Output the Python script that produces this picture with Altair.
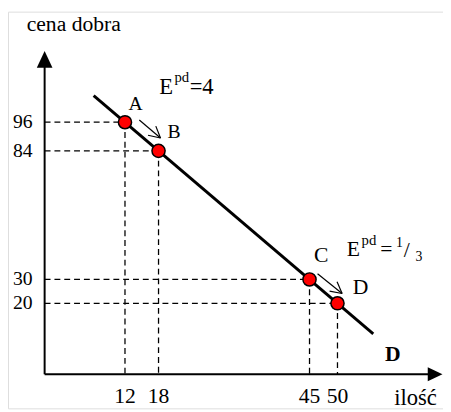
import altair as alt
import pandas as pd
import math

# ---- data -------------------------------------------------------------
names = ["A", "B", "C", "D"]
q_pts = [12, 18, 45, 50]          # ilość
p_pts = [96, 84, 30, 20]          # cena dobra
q_ticks = ["12", "18", "45", "50"]
p_ticks = ["96", "84", "30", "20"]

# demand curve end points
q_line = [6.4, 56.4]
p_line = [107.2, 7.2]

# axes (hand-drawn origin of the schematic)
Q_AXIS = -2.37
P_AXIS = -9.8
P_ARROW = 122.4
Q_ARROW = 67.46

# small movement arrows A->B and C->D
arr_q0 = [14.56, 46.44]
arr_p0 = [96.95, 32.36]
arr_q1 = [18.35, 50.83]
arr_p1 = [89.37, 24.11]

# point labels
lab_q = [13.91, 20.76, 47.09, 54.13]
lab_p = [103.67, 91.72, 40.19, 26.59]
lab_s = [20, 20, 22, 22]

# elasticity annotations (pieces: main text, superscripts, subscripts)
el_text = ["E", "pd", "=4", "E", "pd", "=", "1", "/", "3"]
el_q = [18.12, 20.84, 23.56, 51.66, 54.30, 57.63, 60.45, 61.85, 63.95]
el_p = [107.79, 112.94, 107.79, 39.78, 44.31, 39.78, 43.49, 39.36, 37.72]
el_s = [23, 15, 23, 22, 15, 22, 14, 22, 14]

FONT = "Liberation Serif, Times New Roman, serif"
W, H = 443, 404
X_DOM = [-8.92, 68.87]
Y_DOM = [-24.11, 142.42]
KX, KY = W / (X_DOM[1] - X_DOM[0]), H / (Y_DOM[1] - Y_DOM[0])

xs = alt.Scale(domain=X_DOM, nice=False, zero=False)
ys = alt.Scale(domain=Y_DOM, nice=False, zero=False)


def X(f="q"):
    return alt.X(f"{f}:Q", scale=xs, axis=None)


def Y(f="p"):
    return alt.Y(f"{f}:Q", scale=ys, axis=None)


# ---- tables -------------------------------------------------------------
pts = pd.DataFrame({"q": q_pts, "p": p_pts, "name": names,
                    "qt": q_ticks, "pt": p_ticks})
pts["qa"] = Q_AXIS
pts["pa"] = P_AXIS

line_df = pd.DataFrame({"q": q_line, "p": p_line})

axes_df = pd.DataFrame({
    "q": [Q_AXIS, Q_AXIS], "p": [P_AXIS, P_AXIS],
    "q2": [Q_AXIS, Q_ARROW], "p2": [P_ARROW, P_AXIS]})

# arrows: shafts + barbs (barbs computed in pixel space)
seg = []
for a0, b0, a1, b1 in zip(arr_q0, arr_p0, arr_q1, arr_p1):
    seg.append((a0, b0, a1, b1))
    dx, dy = (a0 - a1) * KX, (b0 - b1) * KY
    L = math.hypot(dx, dy)
    ux, uy = dx / L, dy / L
    for ang in (28, -28):
        r = math.radians(ang)
        vx = ux * math.cos(r) - uy * math.sin(r)
        vy = ux * math.sin(r) + uy * math.cos(r)
        seg.append((a1, b1, a1 + 13 * vx / KX, b1 + 13 * vy / KY))
arr_df = pd.DataFrame(seg, columns=["q", "p", "q2", "p2"])

lab_df = pd.DataFrame({"q": lab_q, "p": lab_p, "t": names, "s": lab_s})
el_df = pd.DataFrame({"q": el_q, "p": el_p, "t": el_text, "s": el_s})
misc_df = pd.DataFrame({
    "q": [2.84, 63.95], "p": [134.17, -22.88],
    "t": ["cena dobra", "ilość"], "s": [22, 23]})
dlab_df = pd.DataFrame({"q": [59.9], "p": [-4.33], "t": ["D"]})
tri_df = pd.DataFrame({"q": [Q_AXIS, Q_ARROW], "p": [P_ARROW, P_AXIS],
                       "shape": ["M0,-1L0.94,1L-0.94,1Z",
                                 "M1,0L-1,-0.95L-1,0.95Z"],
                       "size": [289, 225]})

# ---- layers -------------------------------------------------------------
axes = alt.Chart(axes_df).mark_rule(color="black", strokeWidth=2).encode(
    x=X(), y=Y(), x2="q2", y2="p2")
heads = alt.Chart(tri_df).mark_point(filled=True, color="black", opacity=1).encode(
    x=X(), y=Y(),
    shape=alt.Shape("shape:N", scale=None),
    size=alt.Size("size:Q", scale=None))

dash_h = alt.Chart(pts).mark_rule(color="black", strokeWidth=1.3,
                                  strokeDash=[6, 4]).encode(
    x=X("qa"), x2="q", y=Y())
dash_v = alt.Chart(pts).mark_rule(color="black", strokeWidth=1.3,
                                  strokeDash=[6, 4]).encode(
    x=X(), y=Y(), y2="pa")

demand = alt.Chart(line_df).mark_line(color="black", strokeWidth=3).encode(
    x=X(), y=Y())

arrows = alt.Chart(arr_df).mark_rule(color="black", strokeWidth=1.2).encode(
    x=X(), y=Y(), x2="q2", y2="p2")

points = alt.Chart(pts).mark_point(shape="circle", filled=True, fill="#ff0000",
                                   stroke="black", strokeWidth=1.5,
                                   size=180, opacity=1).encode(x=X(), y=Y())

xticks = alt.Chart(pts).mark_text(font=FONT, fontSize=22, align="center",
                                  baseline="alphabetic", color="black").encode(
    x=X(), y=alt.Y("ty:Q", scale=ys, axis=None), text="qt").transform_calculate(
    ty=str(-22.05))
yticks = alt.Chart(pts).mark_text(font=FONT, fontSize=20, align="right",
                                  baseline="middle", color="black").encode(
    x=alt.X("tx:Q", scale=xs, axis=None), y=Y(), text="pt").transform_calculate(
    tx=str(-4.53))


def text_layers(df, align, baseline):
    out = []
    for s in sorted(df["s"].unique()):
        sub = df[df["s"] == s]
        out.append(alt.Chart(sub).mark_text(
            font=FONT, fontSize=int(s), align=align, baseline=baseline,
            color="black").encode(x=X(), y=Y(), text="t"))
    return out


labels = text_layers(lab_df, "center", "middle")
elast = text_layers(el_df, "left", "alphabetic")
misc = text_layers(misc_df, "center", "alphabetic")
dlab = alt.Chart(dlab_df).mark_text(font=FONT, fontSize=22, fontWeight="bold",
                                    align="center", baseline="alphabetic",
                                    color="black").encode(x=X(), y=Y(), text="t")

chart = alt.layer(dash_h, dash_v, axes, heads, demand, arrows, points,
                  xticks, yticks, *labels, *elast, *misc, dlab).properties(
    width=W, height=H, padding=0,
    autosize=alt.AutoSizeParams(type="none")
).configure_view(stroke=None).configure(background="white")

chart.save("out.html", embed_options={"renderer": "svg", "actions": False})
